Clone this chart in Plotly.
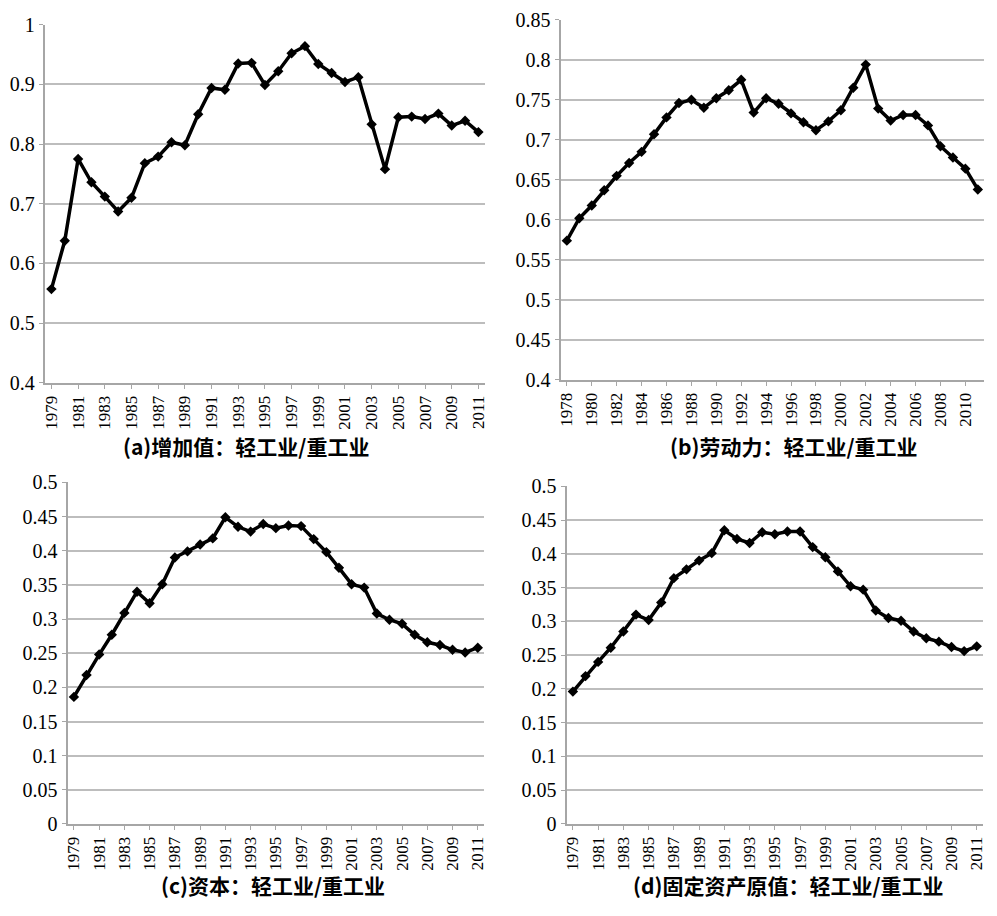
import plotly.graph_objects as go

# Years for each panel
years_a = [str(y) for y in range(1979, 2012)]
years_b = [str(y) for y in range(1978, 2012)]
years_c = [str(y) for y in range(1979, 2012)]
years_d = [str(y) for y in range(1979, 2012)]

# (a) value added: light / heavy industry
value_added = [0.557, 0.638, 0.775, 0.736, 0.712, 0.687, 0.710, 0.768, 0.779, 0.803,
               0.798, 0.850, 0.894, 0.891, 0.935, 0.936, 0.899, 0.922, 0.952, 0.964,
               0.934, 0.919, 0.904, 0.912, 0.833, 0.758, 0.845, 0.846, 0.842, 0.851,
               0.831, 0.839, 0.820]

# (b) labour: light / heavy industry
labour = [0.574, 0.602, 0.618, 0.637, 0.655, 0.671, 0.685, 0.707, 0.728, 0.746,
          0.750, 0.740, 0.752, 0.762, 0.775, 0.734, 0.752, 0.745, 0.733, 0.722,
          0.712, 0.723, 0.737, 0.765, 0.794, 0.739, 0.724, 0.731, 0.731, 0.718,
          0.692, 0.678, 0.664, 0.638]

# (c) capital: light / heavy industry
capital = [0.186, 0.218, 0.248, 0.277, 0.309, 0.340, 0.323, 0.351, 0.390, 0.399,
           0.409, 0.418, 0.449, 0.435, 0.428, 0.439, 0.433, 0.437, 0.436, 0.417,
           0.398, 0.375, 0.351, 0.346, 0.308, 0.299, 0.293, 0.277, 0.266, 0.262,
           0.255, 0.251, 0.258]

# (d) original value of fixed assets: light / heavy industry
fixed_assets = [0.196, 0.219, 0.240, 0.261, 0.285, 0.310, 0.302, 0.328, 0.364, 0.377,
                0.390, 0.401, 0.435, 0.422, 0.416, 0.432, 0.429, 0.433, 0.433, 0.410,
                0.395, 0.374, 0.352, 0.347, 0.316, 0.305, 0.301, 0.285, 0.275, 0.270,
                0.262, 0.256, 0.263]

titles = ["(a)增加值：轻工业/重工业", "(b)劳动力：轻工业/重工业",
          "(c)资本：轻工业/重工业", "(d)固定资产原值：轻工业/重工业"]

W, H = 997, 916

# Plot-area rectangles in pixels: (left, top, right, bottom)
boxes = [(42, 14, 485, 381), (561, 9, 987, 378),
         (65, 483, 484, 833), (567, 487, 986, 833)]
yranges = [(0.4, 1.0, 0.1), (0.4, 0.85, 0.05), (0, 0.5, 0.05), (0, 0.5, 0.05)]
ytickfmt = [
    ["0.4", "0.5", "0.6", "0.7", "0.8", "0.9", "1"],
    ["0.4", "0.45", "0.5", "0.55", "0.6", "0.65", "0.7", "0.75", "0.8", "0.85"],
    ["0", "0.05", "0.1", "0.15", "0.2", "0.25", "0.3", "0.35", "0.4", "0.45", "0.5"],
    ["0", "0.05", "0.1", "0.15", "0.2", "0.25", "0.3", "0.35", "0.4", "0.45", "0.5"],
]
title_pos = [(244, 446), (796, 446), (272, 896), (790, 896)]

series = [(years_a, value_added), (years_b, labour),
          (years_c, capital), (years_d, fixed_assets)]

fig = go.Figure()
grid_col = "#bdbdbd"
axis_col = "#a6a6a6"
serif = "Liberation Serif"

for i, ((xs, ys), box, yr, ylabs, (tx, ty), title) in enumerate(
        zip(series, boxes, yranges, ytickfmt, title_pos, titles)):
    n = i + 1
    xa = "x" if n == 1 else f"x{n}"
    ya = "y" if n == 1 else f"y{n}"
    fig.add_trace(go.Scatter(
        x=xs, y=ys, xaxis=xa, yaxis=ya, mode="lines+markers",
        line=dict(color="black", width=3.5),
        marker=dict(symbol="diamond", size=8, color="black"),
        showlegend=False, hoverinfo="x+y"))

    l, t, r, b = box
    lo, hi, step = yr
    yvals = [round(lo + k * step, 4) for k in range(len(ylabs))]
    xkey = "xaxis" if n == 1 else f"xaxis{n}"
    ykey = "yaxis" if n == 1 else f"yaxis{n}"
    fig.update_layout(**{
        xkey: dict(
            domain=[l / W, r / W], anchor=ya, type="category",
            range=[-0.5, len(xs) - 0.5],
            tickmode="array", tickvals=xs[::2], ticktext=xs[::2], tickangle=-90,
            tickfont=dict(family=serif, size=17, color="black"),
            showgrid=False, showline=True, linecolor=axis_col, linewidth=2,
            ticks="outside", ticklen=4, tickcolor=axis_col, zeroline=False,
        ),
        ykey: dict(
            domain=[1 - b / H, 1 - t / H], anchor=xa,
            range=[lo, hi], tickmode="array", tickvals=yvals, ticktext=ylabs,
            tickfont=dict(family=serif, size=20, color="black"),
            showgrid=True, gridcolor=grid_col, gridwidth=2,
            showline=True, linecolor=axis_col, linewidth=2,
            ticks="outside", ticklen=4, tickcolor=axis_col, zeroline=False,
        ),
    })
    fig.add_annotation(
        x=tx / W, y=1 - ty / H, xref="paper", yref="paper",
        text=f"<b>{title}</b>", showarrow=False,
        font=dict(family="Noto Sans CJK SC", size=21, color="black"),
        xanchor="center", yanchor="middle")

fig.update_layout(
    width=W, height=H, margin=dict(l=0, r=0, t=0, b=0),
    paper_bgcolor="white", plot_bgcolor="white",
    font=dict(family=serif, color="black"),
)

fig.write_html("out.html")
